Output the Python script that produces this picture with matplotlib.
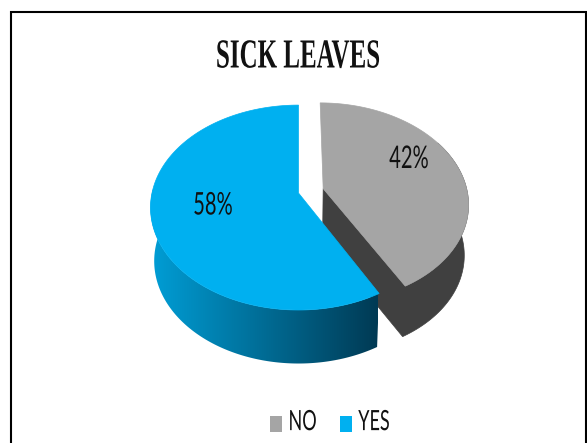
import numpy as np
import matplotlib
matplotlib.use("Agg")
import matplotlib.pyplot as plt
from matplotlib.patches import Polygon, Patch
from matplotlib.path import Path
from matplotlib.patches import PathPatch
from matplotlib.patheffects import AbstractPathEffect
from matplotlib.transforms import Affine2D

# Chart data
categories = ["NO", "YES"]
shares = [42, 58]
title_text = "SICK LEAVES"

GREY, GREY_SIDE, BLUE = "#A5A5A5", "#404040", "#00B0F0"


class Stretch(AbstractPathEffect):
    """Draw glyphs stretched about their own baseline (tall, condensed type)."""

    def __init__(self, sy):
        super().__init__()
        self.sy = sy

    def draw_path(self, renderer, gc, tpath, affine, rgbFace=None):
        renderer.draw_path(gc, tpath, Affine2D().scale(1, self.sy) + affine, rgbFace)


fig = plt.figure(figsize=(5.87, 4.43), dpi=100, facecolor="white")
ax = fig.add_axes([0, 0, 1, 1])
ax.set_xlim(0, 587)
ax.set_ylim(443, 0)
ax.axis("off")

# Perspective projection of the pie plane: v points towards the viewer
CX, CY_TOP, CY_BOTTOM = 298.5, 193.0, 246.5
RX, RY, K = 146.5, 100.4, 0.142
EXPLODE = 0.175
SLICE_R = 0.985


def project(theta, radius=1.0, offset=(0.0, 0.0), bottom=False, lift=0.0):
    theta = np.asarray(theta, dtype=float)
    u = radius * np.sin(theta) + offset[0]
    v = -radius * np.cos(theta) + offset[1]
    s = 1.0 / (1.0 - K * v)
    rx = RX * (0.975 if bottom else 1.0)
    cy = (CY_BOTTOM if bottom else CY_TOP) - lift
    return np.column_stack([CX + rx * u * s, cy + RY * v * s])


total = sum(shares)
split = 2 * np.pi * shares[0] / total
mid = split / 2
shift = (EXPLODE * np.sin(mid), -EXPLODE * np.cos(mid))

# Exploded slice: side wall first, then its top face
arc = np.linspace(0, split, 120)
apex_top = project([0], 0, shift)
apex_bottom = project([0], 0, shift, bottom=True, lift=3)
wall_start = np.radians(60)
wall_arc = np.linspace(wall_start, split, 80)
ax.add_patch(Polygon(np.vstack([apex_top, apex_bottom, project([split], SLICE_R, shift, True, 3),
                                project(wall_arc[::-1], SLICE_R, shift, True, 3),
                                project(wall_arc, SLICE_R, shift)]),
                     closed=True, fc=GREY_SIDE, ec=GREY_SIDE, lw=0.5, zorder=1))
ax.add_patch(Polygon(np.vstack([apex_top, project(arc, SLICE_R, shift)]),
                     closed=True, fc=GREY, ec=GREY, lw=0.5, zorder=2))

# Remaining slice: shaded wall, then its top face
wall = np.linspace(split, np.radians(278), 160)
outline = np.vstack([project(wall), project(wall[::-1], bottom=True)])
clip = PathPatch(Path(np.vstack([outline, outline[0]]), closed=True),
                 transform=ax.transData, fc="none", ec="none")
ax.add_patch(clip)
ramp = np.linspace(0, 1, 256)[None, :, None]
light = np.array([0, 158, 214]) / 255
dark = np.array([0, 58, 84]) / 255
image = ax.imshow(light + ramp * (dark - light), extent=(150, 378, 370, 190),
                  aspect="auto", zorder=3, interpolation="bilinear")
image.set_clip_path(clip)
ax.set_xlim(0, 587)
ax.set_ylim(443, 0)

rest = np.linspace(split, 2 * np.pi, 200)
ax.add_patch(Polygon(np.vstack([project([0], 0), project(rest)]),
                     closed=True, fc=BLUE, ec=BLUE, lw=0.5, zorder=4))

# Percentage labels
label_font = dict(family="Lato", fontsize=14.5, color="#111111", zorder=6,
                  ha="center", va="baseline", path_effects=[Stretch(1.55)])
ax.text(409, 168, f"{shares[0]}%", **label_font)
ax.text(213, 214.5, f"{shares[1]}%", **label_font)

# Title, tall condensed serif
ax.text(298, 67.5, title_text, family="Liberation Serif", fontweight="bold", fontsize=18,
        color="#111111", ha="center", va="baseline", path_effects=[Stretch(1.65)])

# Legend
legend = ax.legend(handles=[Patch(fc=GREY, label=categories[0]), Patch(fc=BLUE, label=categories[1])],
                   loc="center", bbox_to_anchor=(330 / 587, 1 - 424.5 / 443), ncol=2, frameon=False,
                   prop=dict(family="Lato", size=13), handlelength=0.64, handleheight=1.0,
                   handletextpad=0.36, columnspacing=1.3, borderpad=0, borderaxespad=0)
for t in legend.get_texts():
    t.set_path_effects([Stretch(1.55)])
    t.set_color("#111111")

# Outer frame, running off the bottom of the canvas
ax.plot([11, 11, 586, 586], [443, 12, 12, 443], color="black", lw=1.5,
        solid_joinstyle="miter", zorder=7)

fig.savefig("out.png", dpi=100, facecolor="white")
